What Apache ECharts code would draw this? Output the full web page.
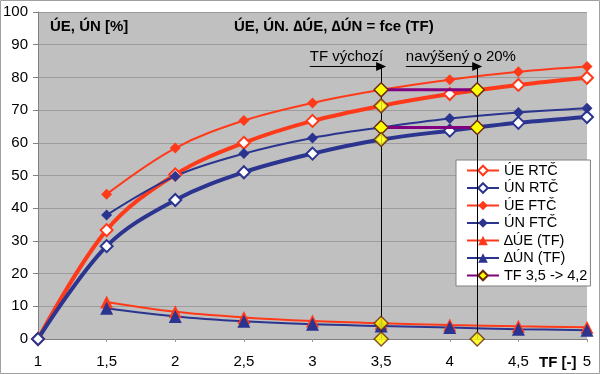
<!DOCTYPE html>
<html><head><meta charset="utf-8">
<script src="https://cdn.jsdelivr.net/npm/echarts@6/dist/echarts.min.js"></script>
<style>html,body{margin:0;padding:0;background:#fff}#c{width:600px;height:374px}</style>
</head><body><div id="c"></div>
<script>
const tf = [1, 1.5, 2, 2.5, 3, 3.5, 4, 4.5, 5];
const ueRTC = [0, 33.3, 50.3, 60.0, 66.7, 71.3, 74.9, 77.7, 79.9];
const unRTC = [0, 28.4, 42.5, 51.0, 56.7, 61.0, 63.7, 66.1, 67.9];
const ueFTC = [null, 44.3, 58.4, 66.8, 72.2, 76.2, 79.3, 81.7, 83.3];
const unFTC = [null, 37.9, 49.8, 56.7, 61.5, 64.7, 67.4, 69.3, 70.6];
const dUE = [null, 11.3, 8.3, 6.6, 5.5, 4.8, 4.3, 3.9, 3.6];
const dUN = [null, 9.4, 6.9, 5.4, 4.5, 4.0, 3.5, 3.0, 2.7];
const tfFrom = 3.5, tfTo = 4.2;
const tfSegUE = [76.2, 76.2];
const tfSegUN = [64.7, 64.7];
const tfPoints = [[3.5, 71.3], [3.5, 61.0], [3.5, 4.8], [3.5, 0], [4.2, 0]];
const annotTop = 83.3;
const arrowStartA = 2.98, arrowStartB = 3.68;
const names = ['ÚE RTČ', 'ÚN RTČ', 'ÚE FTČ', 'ÚN FTČ', '∆ÚE (TF)', '∆ÚN (TF)', 'TF 3,5 -> 4,2'];

const RED = '#FF3A1A', BLUE = '#2B3590', PURPLE = '#800080', YEL = '#FFFF00', BROWN = '#6B2A10';
const FONT = 'Liberation Sans, Arial, sans-serif';
const pairs = arr => tf.map((x, i) => [x, arr[i]]).filter(p => p[1] !== null);

function lineSeries(name, arr, color, width, symbol, size, fill) {
  return {
    name, type: 'line', data: pairs(arr), smooth: 0.35,
    symbol, symbolSize: size, showSymbol: true,
    lineStyle: { color, width },
    itemStyle: { color: fill, borderColor: color, borderWidth: fill === '#fff' ? 2 : 0 },
    emphasis: { disabled: true }
  };
}
const yellowItem = { color: YEL, borderColor: BROWN, borderWidth: 1.5 };
const labelStyle = { color: '#000', fontSize: 15, fontFamily: FONT };
const series = [
  lineSeries(names[0], ueRTC, RED, 4, 'diamond', 12, '#fff'),
  lineSeries(names[1], unRTC, BLUE, 4, 'diamond', 12, '#fff'),
  lineSeries(names[2], ueFTC, RED, 2, 'diamond', 11, RED),
  lineSeries(names[3], unFTC, BLUE, 2, 'diamond', 11, BLUE),
  lineSeries(names[4], dUE, RED, 2, 'triangle', 13, RED),
  lineSeries(names[5], dUN, BLUE, 2, 'triangle', 13, BLUE),
  {
    name: names[6], type: 'line', data: [[tfFrom, tfSegUE[0]], [tfTo, tfSegUE[1]]],
    symbol: 'diamond', symbolSize: 14, lineStyle: { color: PURPLE, width: 3 }, itemStyle: yellowItem,
    emphasis: { disabled: true }, z: 5,
    markLine: {
      silent: true, symbol: ['none', 'none'], animation: false,
      lineStyle: { color: '#000', width: 1, type: 'solid' },
      label: { show: false },
      data: [
        [{ coord: [tfFrom, annotTop] }, { coord: [tfFrom, 0] }],
        [{ coord: [tfTo, annotTop] }, { coord: [tfTo, 0] }],
        [{ coord: [arrowStartA, annotTop], symbol: 'none', label: Object.assign({ show: true, formatter: 'TF výchozí', position: 'insideStartTop', distance: [0, 2] }, labelStyle) },
         { coord: [tfFrom, annotTop], symbol: 'triangle', symbolRotate: -90, symbolSize: [9, 10] }],
        [{ coord: [arrowStartB, annotTop], symbol: 'none', label: Object.assign({ show: true, formatter: 'navýšený o 20%', position: 'insideStartTop', distance: [0, 2] }, labelStyle) },
         { coord: [tfTo, annotTop], symbol: 'triangle', symbolRotate: -90, symbolSize: [9, 10] }]
      ]
    }
  },
  {
    name: names[6], type: 'line', data: [[tfFrom, tfSegUN[0]], [tfTo, tfSegUN[1]]],
    symbol: 'diamond', symbolSize: 14, lineStyle: { color: PURPLE, width: 3 }, itemStyle: yellowItem,
    emphasis: { disabled: true }, z: 5
  },
  {
    name: names[6], type: 'scatter', data: tfPoints,
    symbol: 'diamond', symbolSize: 14, itemStyle: yellowItem, emphasis: { disabled: true }, z: 5
  }
];

const chart = echarts.init(document.getElementById('c'), null, { renderer: 'canvas' });
chart.setOption({
  animation: false,
  backgroundColor: '#fff',
  textStyle: { fontFamily: FONT },
  grid: { left: 38, right: 13, top: 12, bottom: 35, show: true, backgroundColor: '#C0C0C0', borderWidth: 0 },
  xAxis: {
    type: 'value', min: 1, max: 5, interval: 0.5,
    axisLine: { show: true, lineStyle: { color: '#808080', width: 1 } },
    axisTick: { show: true, length: 3, lineStyle: { color: '#999' } },
    splitLine: { show: false },
    axisLabel: { color: '#000', fontSize: 15, fontFamily: FONT, margin: 15, formatter: v => String(v).replace('.', ',') }
  },
  yAxis: {
    type: 'value', min: 0, max: 100, interval: 10,
    axisLine: { show: true, lineStyle: { color: '#808080', width: 1 } },
    axisTick: { show: true, length: 5, lineStyle: { color: '#808080' } },
    splitLine: { show: true, lineStyle: { color: '#9C9C9C', width: 1 } },
    axisLabel: { color: '#000', fontSize: 15, fontFamily: FONT, margin: 10 }
  },
  legend: {
    data: names, orient: 'vertical', left: 456, top: 160,
    backgroundColor: '#fff', borderColor: '#808080', borderWidth: 1,
    padding: [3, 3, 3, 10], itemGap: 2.5, itemWidth: 32, itemHeight: 12,
    textStyle: { fontSize: 14.5, fontFamily: FONT, color: '#000' },
    selectedMode: false
  },
  graphic: [
    { type: 'rect', shape: { x: 0.5, y: 0.5, width: 599, height: 373 }, style: { fill: 'none', stroke: '#A0A0A0', lineWidth: 1 }, silent: true },
    { type: 'text', left: 50, top: 19, style: { text: 'ÚE, ÚN [%]', font: 'bold 15px ' + FONT, fill: '#000' }, silent: true },
    { type: 'text', left: 234, top: 19, style: { text: 'ÚE, ÚN. ∆ÚE, ∆ÚN = fce (TF)', font: 'bold 15px ' + FONT, fill: '#000' }, silent: true },
    { type: 'text', left: 539, top: 355, style: { text: 'TF [-]', font: 'bold 15px ' + FONT, fill: '#000' }, silent: true }
  ],
  series
});
</script></body></html>
